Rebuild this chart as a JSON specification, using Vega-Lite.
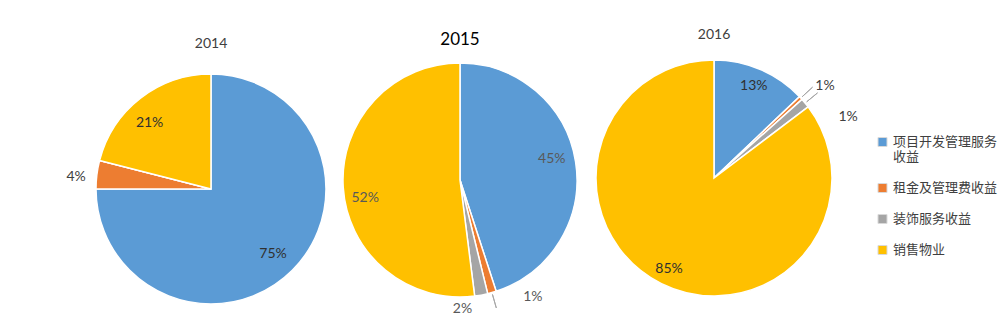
{
  "$schema": "https://vega.github.io/schema/vega-lite/v6.json",
  "padding": {"left": 66, "top": 28, "right": 0, "bottom": 0},
  "background": "white",
  "spacing": 0,
  "bounds": "flush",
  "datasets": {
    "pie": [
      {"year": 2014, "category": "项目开发管理服务收益", "idx": 1, "value": 75, "label": "75%"},
      {"year": 2014, "category": "租金及管理费收益", "idx": 2, "value": 4, "label": "4%"},
      {"year": 2014, "category": "装饰服务收益", "idx": 3, "value": 0, "label": "0%"},
      {"year": 2014, "category": "销售物业", "idx": 4, "value": 21, "label": "21%"},
      {"year": 2015, "category": "项目开发管理服务收益", "idx": 1, "value": 45, "label": "45%"},
      {"year": 2015, "category": "租金及管理费收益", "idx": 2, "value": 1.2, "label": "1%"},
      {"year": 2015, "category": "装饰服务收益", "idx": 3, "value": 1.8, "label": "2%"},
      {"year": 2015, "category": "销售物业", "idx": 4, "value": 52, "label": "52%"},
      {"year": 2016, "category": "项目开发管理服务收益", "idx": 1, "value": 12.9, "label": "13%"},
      {"year": 2016, "category": "租金及管理费收益", "idx": 2, "value": 0.5, "label": "1%"},
      {"year": 2016, "category": "装饰服务收益", "idx": 3, "value": 1.3, "label": "1%"},
      {"year": 2016, "category": "销售物业", "idx": 4, "value": 85.3, "label": "85%"}
    ]
  },
  "hconcat": [
    {
      "width": 250,
      "height": 264,
      "title": {"text": "2014", "fontSize": 14, "fontWeight": "normal", "color": "#404040", "offset": 6, "font": "Lato", "frame": "group"},
      "data": {"name": "pie"},
      "transform": [{"filter": "datum.year == 2014"}],
      "encoding": {
        "theta": {"field": "value", "type": "quantitative", "stack": true},
        "order": {"field": "idx", "type": "quantitative"},
        "detail": {"field": "category", "type": "nominal"}
      },
      "layer": [
        {
          "mark": {"type": "arc", "outerRadius": 115, "stroke": "white", "strokeWidth": 1.5},
          "encoding": {
            "color": {
              "field": "category", "type": "nominal",
              "scale": {"domain": ["项目开发管理服务收益", "租金及管理费收益", "装饰服务收益", "销售物业"], "range": ["#5B9BD5", "#ED7D31", "#A5A5A5", "#FFC000"]},
              "legend": {
                "orient": "none", "legendX": 790, "legendY": 78, "title": null,
                "labelExpr": "datum.label == '项目开发管理服务收益' ? ['项目开发管理服务', '收益'] : datum.label"
              }
            }
          }
        },
        {
          "mark": {"type": "text", "radius": 92, "dx": -3, "dy": 0, "fontSize": 14, "fill": "#303030", "font": "Lato"},
          "encoding": {"text": {"condition": {"test": "datum.category == '项目开发管理服务收益'", "field": "label"}, "value": ""}}
        },
        {
          "mark": {"type": "text", "radius": 92, "dx": -5, "dy": 7, "fontSize": 14, "fill": "#303030", "font": "Lato"},
          "encoding": {"text": {"condition": {"test": "datum.category == '销售物业'", "field": "label"}, "value": ""}}
        },
        {
          "mark": {"type": "text", "radius": 136, "dy": 5, "fontSize": 14, "fill": "#404040", "font": "Lato"},
          "encoding": {"text": {"condition": {"test": "datum.value < 5 && datum.value > 0", "field": "label"}, "value": ""}}
        }
      ]
    },
    {
      "width": 248,
      "height": 246,
      "title": {"text": "2015", "fontSize": 17, "fontWeight": "normal", "color": "#000000", "offset": 8, "font": "Lato", "frame": "group"},
      "data": {"name": "pie"},
      "transform": [{"filter": "datum.year == 2015"}],
      "encoding": {
        "theta": {"field": "value", "type": "quantitative", "stack": true},
        "order": {"field": "idx", "type": "quantitative"},
        "detail": {"field": "category", "type": "nominal"}
      },
      "layer": [
        {
          "mark": {"type": "arc", "outerRadius": 117, "stroke": "white", "strokeWidth": 1.5},
          "encoding": {"color": {"field": "category", "type": "nominal"}}
        },
        {
          "mark": {"type": "arc", "radius": 119, "radius2": 133, "padAngle": 1, "fill": null, "stroke": "#a6a6a6", "strokeWidth": 1},
          "encoding": {"strokeOpacity": {"condition": {"test": "datum.category == '租金及管理费收益'", "value": 1}, "value": 0}}
        },
        {
          "mark": {"type": "text", "radius": 94, "dx": -1, "dy": -6, "fontSize": 14, "fill": "#595959", "font": "Lato"},
          "encoding": {"text": {"condition": {"test": "datum.category == '项目开发管理服务收益'", "field": "label"}, "value": ""}}
        },
        {
          "mark": {"type": "text", "radius": 94, "dx": -1, "dy": 12, "fontSize": 14, "fill": "#595959", "font": "Lato"},
          "encoding": {"text": {"condition": {"test": "datum.category == '销售物业'", "field": "label"}, "value": ""}}
        },
        {
          "mark": {"type": "text", "radius": 135, "dx": 36, "dy": -13, "fontSize": 14, "fill": "#595959", "font": "Lato"},
          "encoding": {"text": {"condition": {"test": "datum.category == '租金及管理费收益'", "field": "label"}, "value": ""}}
        },
        {
          "mark": {"type": "text", "radius": 135, "dx": -22, "dy": -4, "fontSize": 14, "fill": "#595959", "font": "Lato"},
          "encoding": {"text": {"condition": {"test": "datum.category == '装饰服务收益'", "field": "label"}, "value": ""}}
        }
      ]
    },
    {
      "width": 260,
      "height": 242,
      "title": {"text": "2016", "fontSize": 14, "fontWeight": "normal", "color": "#404040", "offset": 3, "font": "Lato", "frame": "group"},
      "data": {"name": "pie"},
      "transform": [{"filter": "datum.year == 2016"}],
      "encoding": {
        "theta": {"field": "value", "type": "quantitative", "stack": true},
        "order": {"field": "idx", "type": "quantitative"},
        "detail": {"field": "category", "type": "nominal"}
      },
      "layer": [
        {
          "mark": {"type": "arc", "outerRadius": 118, "stroke": "white", "strokeWidth": 1.5},
          "encoding": {"color": {"field": "category", "type": "nominal"}}
        },
        {
          "mark": {"type": "arc", "radius": 120, "radius2": 134, "padAngle": 1, "fill": null, "stroke": "#a6a6a6", "strokeWidth": 1},
          "encoding": {"strokeOpacity": {"condition": {"test": "datum.value < 5", "value": 1}, "value": 0}}
        },
        {
          "mark": {"type": "text", "radius": 101, "dy": 1, "fontSize": 14, "fill": "#303030", "font": "Lato"},
          "encoding": {"text": {"condition": {"test": "datum.value >= 5", "field": "label"}, "value": ""}}
        },
        {
          "mark": {"type": "text", "radius": 140, "dx": 8, "dy": 3, "fontSize": 14, "fill": "#404040", "font": "Lato"},
          "encoding": {"text": {"condition": {"test": "datum.category == '租金及管理费收益'", "field": "label"}, "value": ""}}
        },
        {
          "mark": {"type": "text", "radius": 140, "dx": 26, "dy": 28, "fontSize": 14, "fill": "#404040", "font": "Lato"},
          "encoding": {"text": {"condition": {"test": "datum.category == '装饰服务收益'", "field": "label"}, "value": ""}}
        }
      ]
    }
  ],
  "config": {
    "view": {"stroke": null},
    "legend": {
      "symbolType": "square",
      "symbolSize": 81,
      "symbolStrokeColor": "#d9d9d9",
      "symbolStrokeWidth": 1,
      "labelFont": "Noto Sans CJK SC",
      "labelFontSize": 13,
      "labelColor": "#404040",
      "labelOffset": 4,
      "labelLineHeight": 17,
      "rowPadding": 17,
      "clipHeight": 14,
      "labelLimit": 200
    }
  }
}
